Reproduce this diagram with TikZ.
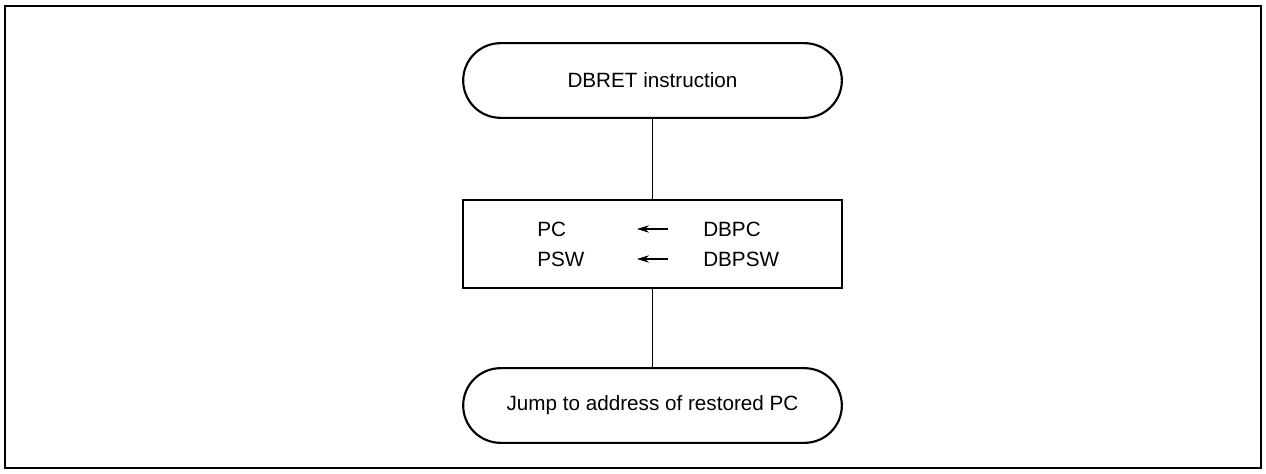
\documentclass[tikz,border=0pt]{standalone}
\usepackage{fontspec}
\setmainfont{Liberation Sans}
\usetikzlibrary{arrows.meta}

\begin{document}
\begin{tikzpicture}[
    x=0.75pt, y=-0.75pt,
    every node/.style={font=\fontsize{15.5}{18}\selectfont, align=center},
    terminal/.style={rectangle, draw=black, line width=1.6pt, rounded corners=28pt, minimum width=284pt, minimum height=56pt, inner sep=0pt},
    process/.style={rectangle, draw=black, line width=1.6pt, minimum width=284pt, minimum height=66pt, inner sep=0pt},
    reg/.style={anchor=west, inner sep=0pt},
    flow/.style={draw=black, line width=0.7pt},
    assign/.style={draw=black, line width=0.8pt, -{Stealth[length=9pt, width=5.5pt]}}
]
\useasboundingbox (0,0) rectangle (1266,474);
\draw [line width=2pt] (5,6) rectangle (1261,468);

\node [terminal] (start) at (652.5,80.5) {DBRET instruction};
\node [process] (restore) at (652.5,244) {};
\node [terminal] (jump) at (652.5,405.5) {Jump to address of restored PC};

% register transfer inside the box
\node [reg] (pc) at (537,229) {PC};
\node [reg] (psw) at (537,259) {PSW};
\node [reg] (dbpc) at (703,229) {DBPC};
\node [reg] (dbpsw) at (703,259) {DBPSW};
\coordinate (pcto) at (637,229);
\coordinate (pcfrom) at (668,229);
\coordinate (pswto) at (637,259);
\coordinate (pswfrom) at (668,259);
\draw [assign] (pcfrom) -- (pcto);
\draw [assign] (pswfrom) -- (pswto);

\draw [flow] (start) -- (restore);
\draw [flow] (restore) -- (jump);
\end{tikzpicture}
\end{document}
